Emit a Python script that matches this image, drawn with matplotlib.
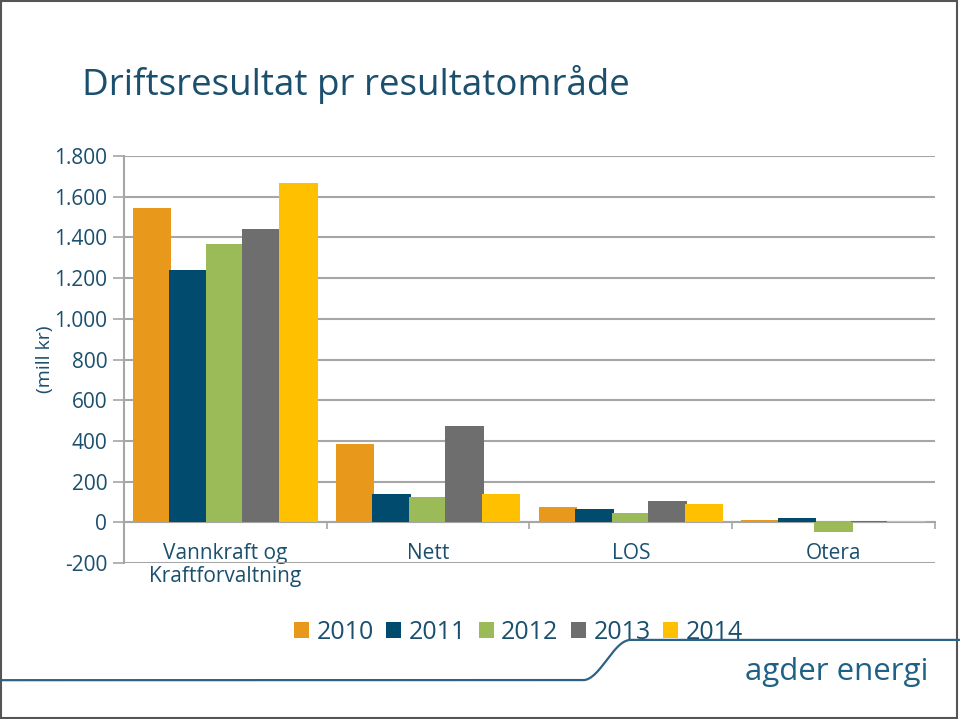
import matplotlib.pyplot as plt
import numpy as np
from matplotlib.lines import Line2D
from matplotlib.patches import Patch, Rectangle
from matplotlib.ticker import FuncFormatter

plt.rcParams['font.family'] = ['Open Sans', 'DejaVu Sans']

# data (mill kr)
categories = ["Vannkraft og\nKraftforvaltning", "Nett", "LOS", "Otera"]
years = ["2010", "2011", "2012", "2013", "2014"]
v2010 = [1545, 384, 74, 13]
v2011 = [1240, 138, 67, 21]
v2012 = [1367, 123, 48, -48]
v2013 = [1441, 472, 103, 6]
v2014 = [1667, 138, 90, 8]
series = [v2010, v2011, v2012, v2013, v2014]
colors = ["#E8991B", "#004B6E", "#9BBB59", "#6E6E6E", "#FFC000"]

txt = "#1B4F6E"
grid = "#A6A6A6"

fig = plt.figure(figsize=(9.6, 7.19), dpi=100)
ax = fig.add_axes([0.129, 0.217, 0.845, 0.566])

x = np.arange(len(categories))
step = 0.18
w = 0.19
for i, vals in enumerate(series):
    ax.bar(x + (i - 2) * step, vals, width=w, color=colors[i], zorder=3 + i)

ax.set_xlim(-0.5, 3.5)
ax.set_ylim(-200, 1800)
ax.set_yticks(np.arange(-200, 1801, 200))
ax.yaxis.set_major_formatter(FuncFormatter(lambda v, p: f"{int(v):,}".replace(",", ".")))
ax.grid(axis='y', color=grid, linewidth=1.5, zorder=0)
ax.tick_params(axis='y', length=8, width=1.2, color=grid, labelsize=15, pad=4,
               labelcolor=txt)

for s in ['top', 'right']:
    ax.spines[s].set_visible(False)
ax.spines['left'].set_color(grid)
ax.spines['left'].set_linewidth(1.5)
ax.spines['bottom'].set_position(('data', 0))
ax.spines['bottom'].set_color(grid)
ax.spines['bottom'].set_linewidth(1.5)
ax.spines['bottom'].set_zorder(2.5)

ax.set_xticks(x)
ax.set_xticklabels(categories, fontsize=15, color=txt, linespacing=1.1, va='top')
ax.tick_params(axis='x', length=0, pad=15)
ax.set_xticks(np.arange(-0.5, 3.6, 1), minor=True)
ax.tick_params(axis='x', which='minor', length=5, width=1.2, color=grid)

ax.set_ylabel("(mill kr)", fontsize=14, color=txt, labelpad=0)

fig.text(0.085, 0.882, "Driftsresultat pr resultatområde", fontsize=26.5, color=txt,
         va='center', ha='left')

handles = [Patch(facecolor=c) for c in colors]
fig.legend(handles, years, loc='center', bbox_to_anchor=(0.54, 0.121), ncol=5,
           frameon=False, fontsize=18, handlelength=0.6, handleheight=0.6,
           handletextpad=0.3, columnspacing=0.5, labelcolor=txt)

# decorative slide line and logo
lx = np.linspace(0, 1, 400)
xs = 0.607 + 0.05 * lx
ys = 0.054 + 0.056 * (1 - np.cos(np.pi * lx)) / 2
curve_x = np.concatenate([[0.0, 0.607], xs, [0.657, 1.0]])
curve_y = np.concatenate([[0.054, 0.054], ys, [0.110, 0.110]])
fig.add_artist(Line2D(curve_x, curve_y, transform=fig.transFigure,
                      color="#2C6283", linewidth=1.6))
fig.text(0.776, 0.066, "agder energi", fontsize=22.5, color="#1F6185",
         ha='left', va='center', fontweight='medium')

# slide border
fig.add_artist(Rectangle((0.001, 0.002), 0.996, 0.997, transform=fig.transFigure,
                         fill=False, edgecolor="#555555", linewidth=1.5))

fig.savefig("out.png", dpi=100)
